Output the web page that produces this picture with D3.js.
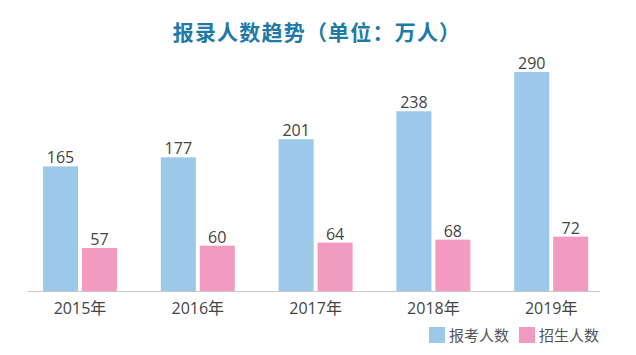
<!DOCTYPE html>
<html><head><meta charset="utf-8">
<script src="https://cdn.jsdelivr.net/npm/d3@7/dist/d3.min.js"></script>
<style>body{margin:0;background:#fff}svg{display:block}</style>
</head><body><svg id="c" width="636" height="355"></svg>
<script>
const years = ["2015年","2016年","2017年","2018年","2019年"];
const applicants = [165,177,201,238,290];
const admitted = [57,60,64,68,72];
const seriesNames = ["报考人数","招生人数"];
const colors = ["#9cc8ea","#f29ac0"];
const title = "报录人数趋势（单位：万人）";

const svg = d3.select("#c");
const font = "'Noto Sans CJK SC','Noto Sans',sans-serif";
const numFont = "'Open Sans','Noto Sans CJK SC',sans-serif";
const baseY = 291;
const x0 = d3.scaleBand().domain(years).range([25, 614]).paddingInner(0).paddingOuter(0);
const x1 = d3.scaleBand().domain([0,1]).range([18, 92]).paddingInner(0.1);
const y = d3.scaleLinear().domain([0,290]).range([baseY, 72]);

svg.append("text").attr("x",317).attr("y",40).attr("text-anchor","middle")
  .attr("font-family",font).attr("font-weight","bold").attr("font-size",21)
  .attr("letter-spacing",1.2)
  .attr("fill","#1f7aa8").text(title);

const groups = svg.selectAll("g.grp").data(years).join("g").attr("class","grp")
  .attr("transform",d=>`translate(${x0(d)},0)`);

[applicants, admitted].forEach((vals,si)=>{
  groups.append("rect")
    .attr("x",x1(si)).attr("width",x1.bandwidth())
    .attr("y",(d,i)=>y(vals[i])).attr("height",(d,i)=>baseY-y(vals[i]))
    .attr("fill",colors[si]);
  groups.append("text")
    .attr("x",x1(si)+x1.bandwidth()/2).attr("y",(d,i)=>y(vals[i])-3)
    .attr("text-anchor","middle").attr("font-family",numFont).attr("font-size",16)
    .attr("fill","#444").text((d,i)=>vals[i]);
});

svg.append("line").attr("x1",28).attr("x2",600).attr("y1",baseY+0.5).attr("y2",baseY+0.5)
  .attr("stroke","#c8c8c8").attr("stroke-width",1);

groups.append("text").attr("x",(x1(0)+x1(1)+x1.bandwidth())/2).attr("y",314).attr("text-anchor","middle")
  .attr("font-family",numFont).attr("font-size",16).attr("fill","#444").text(d=>d);

const lg = svg.append("g");
const legX = [429, 519];
seriesNames.forEach((n,i)=>{
  lg.append("rect").attr("x",legX[i]).attr("y",327).attr("width",16).attr("height",16).attr("fill",colors[i]);
  lg.append("text").attr("x",legX[i]+20).attr("y",341).attr("font-family",font)
    .attr("font-size",15).attr("fill","#555").text(n);
});
</script></body></html>
